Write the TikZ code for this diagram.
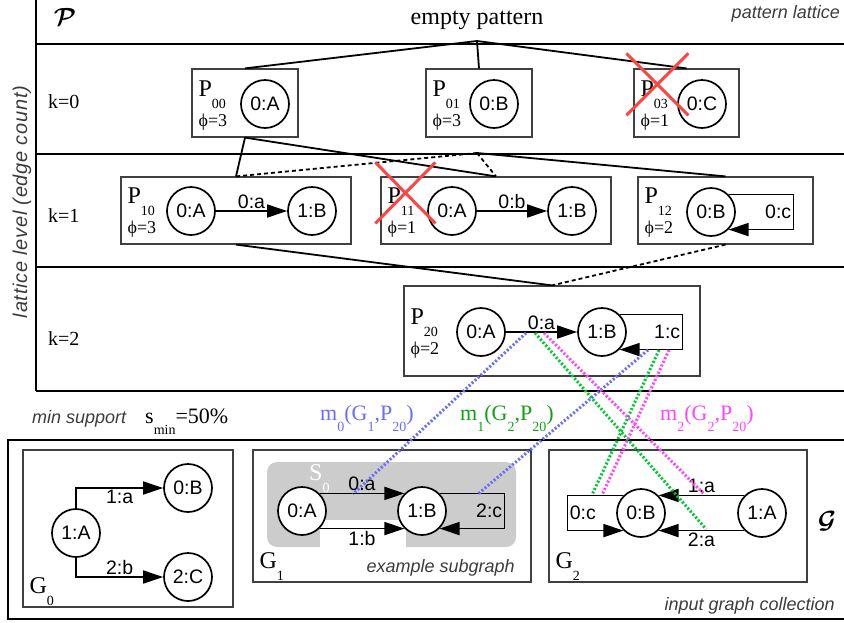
\documentclass[tikz,border=0pt]{standalone}
\usepackage{amsmath}
\usepackage{fontspec}
\setmainfont{Liberation Serif}
\setsansfont{Liberation Sans}
\usetikzlibrary{arrows.meta, calc, positioning}
\tikzset{>={Triangle[length=20pt, width=13pt]}}
\tikzset{every text node part/.style={align=center}}
\definecolor{crossred}{HTML}{FF4444}
\definecolor{matchblue}{HTML}{6B6BFF}
\definecolor{matchgreen}{HTML}{00C830}
\definecolor{labelgreen}{HTML}{12A012}
\definecolor{matchmagenta}{HTML}{FF44FF}
\definecolor{notegray}{HTML}{3C3C3C}
\newcommand{\fs}[1]{\fontsize{#1}{#1}\selectfont}
\newcommand{\lsub}[1]{\raisebox{-0.5em}{\fs{14}#1}}
\tikzset{
	vert/.style={circle, draw, line width=1.7pt, fill=white, minimum size=48pt, inner sep=0pt, font=\sffamily\fs{19.5}},
	pbox/.style={draw=black!75, line width=1.2pt, inner sep=0pt},
	elabel/.style={font=\sffamily\fs{19.5}, inner sep=1.5pt},
	gedge/.style={line width=1.7pt, ->},
	lattice/.style={line width=1.8pt},
	sublattice/.style={line width=1.8pt, dash pattern=on 4pt off 3pt},
	note/.style={font=\sffamily\itshape\fs{18}, text=notegray, inner sep=0pt},
	serif/.style={font=\fs{24}, inner sep=0pt},
	supp/.style={font=\fs{18}, inner sep=0pt},
	cross/.style={draw=crossred, line width=3pt},
	match/.style={line width=3pt, dash pattern=on 2pt off 2pt}
}
% pattern box: name, x, y, width, height, index, support
\newcommand{\patbox}[7]{%
	\node[pbox, minimum width=#4pt, minimum height=#5pt] (#1) at (#2,#3) {};
	\node[serif, anchor=base west] (#1-P) at ([shift={(7,-7)}]#1.west) {P\lsub{#6}};
	\node[supp, anchor=base west] (#1-s) at ([shift={(7,23)}]#1.west) {ϕ=#7};
}
% input graph box: name, x, y, width, height, index
\newcommand{\graphbox}[6]{%
	\node[pbox, minimum width=#4pt, minimum height=#5pt] (#1) at (#2,#3) {};
	\node[serif, anchor=base west] (#1-G) at ([shift={(7,-14)}]#1.south west) {G\lsub{#6}};
}

\begin{document}
\begin{tikzpicture}[x=1pt, y=-1pt]
	\useasboundingbox (0,0) rectangle (844,622);

	% Level Separators
	\draw[line width=1.2pt] (36,0) -- (36,391);
	\foreach \y in {44,154,267,391}
		\draw[line width=1.2pt] (36,\y) -- (844,\y);
	\draw[line width=1.2pt] (844,440) -- (8,440) -- (8,619) -- (844,619);

	% Headings
	\node[serif, font=\fs{29}] (calp) at (65,17) {$\boldsymbol{\mathcal{P}}$};
	\node[serif, anchor=base] (empty) at (477,24) {empty pattern};
	\node[note, anchor=base east] (latnote) at (840,18) {pattern lattice};
	\node[note, rotate=90, font=\sffamily\itshape\fs{20}\addfontfeature{LetterSpace=3.5}] (levnote) at (22,202) {lattice level (edge count)};
	\foreach \k/\y in {0/108,1/222,2/345}
		\node[font=\fs{20}, inner sep=0pt, anchor=base west] (k\k) at (48,\y) {k=\k};

	% Level k=0
	\patbox{p00}{245}{103}{106}{68}{00}{3}
	\node[vert] (p00A) at (265,104) {0:A};
	\patbox{p01}{479}{103}{106}{68}{01}{3}
	\node[vert] (p01B) at (494,104) {0:B};
	\patbox{p03}{686.5}{103}{105}{68}{03}{1}
	\node[vert] (p03C) at (702,104) {0:C};

	% Level k=1
	\patbox{p10}{236}{210.5}{230}{67}{10}{3}
	\node[vert] (p10A) at (191,211) {0:A};
	\node[vert] (p10B) at (312,211) {1:B};
	\draw[gedge] (p10A) -- node[elabel, above] (p10a) {0:a} (p10B);

	\patbox{p11}{496}{210.5}{230}{67}{11}{1}
	\node[vert] (p11A) at (452,211) {0:A};
	\node[vert] (p11B) at (572,211) {1:B};
	\draw[gedge] (p11A) -- node[elabel, above] (p11b) {0:b} (p11B);

	\patbox{p12}{725.5}{210.5}{175}{67}{12}{2}
	\node[vert] (p12B) at (711,212) {0:B};
	\draw[gedge] (p12B.45) -- ++(65,0) |- node[elabel, pos=0.25, left] (p12c) {0:c} (p12B.-45);

	% Level k=2
	\patbox{p20}{552}{331}{296}{90}{20}{2}
	\node[vert] (p20A) at (481,332) {0:A};
	\node[vert] (p20B) at (602,332) {1:B};
	\draw[gedge] (p20A) -- node[elabel, above] (p20a) {0:a} (p20B);
	\draw[gedge] (p20B.45) -- ++(63,0) |- node[elabel, pos=0.25, left] (p20c) {1:c} (p20B.-45);

	% Lattice Edges
	\coordinate (root) at (477,41);
	\coordinate (hub) at (477,153);
	\draw[lattice] (p00.north) -- (root) -- (p03.north);
	\draw[lattice] (root) -- (p01.north);
	\draw[lattice] (p00.south) -- (p10.north);
	\draw[lattice] (p00.south) -- (p11.north);
	\draw[sublattice] (hub) -- (p10.north);
	\draw[sublattice] (hub) -- (p11.north);
	\draw[lattice] (hub) -- (p12.north);
	\draw[lattice] (p10.south) -- (p20.north);
	\draw[sublattice] (p12.south) -- (p20.north);

	% Pruned Patterns
	\draw[cross] ([shift={(-7,-15)}]p03.north west) -- +(62,62);
	\draw[cross] ([shift={(55,-15)}]p03.north west) -- +(-62,62);
	\draw[cross] ([shift={(-5,-14)}]p11.north west) -- +(60,61);
	\draw[cross] ([shift={(55,-14)}]p11.north west) -- +(-60,61);

	% Support
	\node[note, anchor=base west] (minsup) at (32,423) {min support};
	\node[font=\fs{22}, inner sep=0pt, anchor=base west] (smin) at (145,423) {s\lsub{min}=50\%};
	\node[font=\fs{22}, inner sep=0pt, anchor=base west, text=matchblue] (m0) at (320,420) {m\lsub{0}(G\lsub{1},P\lsub{20})};
	\node[font=\fs{22}, inner sep=0pt, anchor=base west, text=labelgreen] (m1) at (460,420) {m\lsub{1}(G\lsub{2},P\lsub{20})};
	\node[font=\fs{22}, inner sep=0pt, anchor=base west, text=matchmagenta] (m2) at (660,420) {m\lsub{2}(G\lsub{2},P\lsub{20})};

	% Input Graphs
	\node[serif, font=\fs{29}] (calg) at (827,521) {$\boldsymbol{\mathcal{G}}$};
	\node[note, anchor=base east] (colnote) at (835,610) {input graph collection};

	\graphbox{g0}{128}{528.5}{210}{157}{0}
	\node[vert] (g0A) at (76,533) {1:A};
	\node[vert] (g0B) at (188,488) {0:B};
	\node[vert] (g0C) at (188,577) {2:C};
	\draw[gedge] (g0A.north) |- node[elabel, pos=0.75, below] (g0a) {1:a} (g0B.west);
	\draw[gedge] (g0A.south) |- node[elabel, pos=0.75, above] (g0b) {2:b} (g0C.west);

	\graphbox{g1}{392}{516}{278}{132}{1}
	\fill[black!20, rounded corners=10pt] (267,462) rectangle (516,547);
	\fill[white] (320,520) rectangle (406,547.5);
	\node[serif, anchor=base west, text=white] (s0) at (309,480) {S\lsub{0}};
	\node[vert] (g1A) at (302,511) {0:A};
	\node[vert] (g1B) at (422,511) {1:B};
	\draw[gedge] (g1A.45) -- node[elabel, above] (g1a) {0:a} (g1B.135);
	\draw[gedge] (g1A.-45) -- node[elabel, below] (g1b) {1:b} (g1B.-135);
	\draw[gedge] (g1B.45) -- ++(65,0) |- node[elabel, pos=0.25, left] (g1c) {2:c} (g1B.-45);
	\node[note, anchor=base east] (subnote) at (515,572) {example subgraph};

	\graphbox{g2}{678}{516}{258}{132}{2}
	\node[vert] (g2B) at (641,513) {0:B};
	\node[vert] (g2A) at (762,513) {1:A};
	\draw[gedge] (g2A.135) -- node[elabel, above] (g2a) {1:a} (g2B.45);
	\draw[gedge] (g2A.-135) -- node[elabel, below] (g2aa) {2:a} (g2B.-45);
	\draw[gedge] (g2B.135) -- ++(-56,0) |- node[elabel, pos=0.25, right] (g2c) {0:c} (g2B.-135);

	% Matchings
	\coordinate (m0p) at (526,333);
	\coordinate (m0q) at (648,350);
	\coordinate (m1p) at (535,333);
	\coordinate (m1q) at (659,350);
	\coordinate (m2p) at (544,333);
	\coordinate (m2q) at (669,350);
	\coordinate (m0s) at (353,494);
	\coordinate (m0t) at (478,494);
	\coordinate (m1s) at (706,529);
	\coordinate (m1t) at (592,495);
	\coordinate (m2s) at (704,494);
	\coordinate (m2t) at (602,495);
	\draw[match, matchblue] (m0p) -- (m0s);
	\draw[match, matchblue] (m0q) -- (m0t);
	\draw[match, matchgreen] (m1p) -- (m1s);
	\draw[match, matchgreen] (m1q) -- (m1t);
	\draw[match, matchmagenta] (m2p) -- (m2s);
	\draw[match, matchmagenta] (m2q) -- (m2t);
\end{tikzpicture}
\end{document}
